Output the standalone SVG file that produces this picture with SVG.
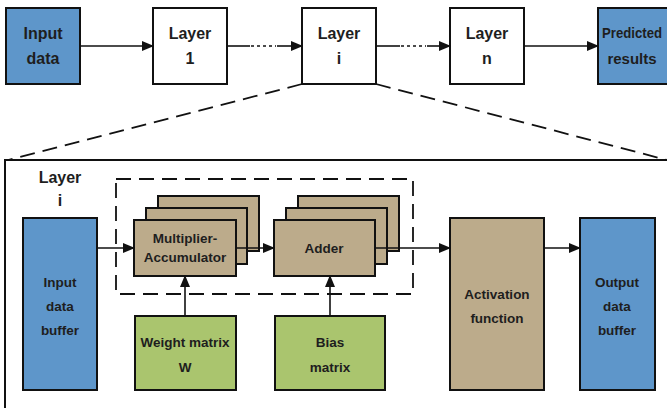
<svg xmlns="http://www.w3.org/2000/svg" width="667" height="408" viewBox="0 0 667 408">
<style>
.box{stroke:#111;stroke-width:2}
.blue{fill:#5E96CA}
.white{fill:#fff}
.tan{fill:#BCAB8B}
.green{fill:#AAC56E}
.t{font-family:"Liberation Sans",Arial,sans-serif;font-weight:bold;fill:#1e1e1e;text-anchor:middle;dominant-baseline:central}
.big{font-size:16px}
.sm{font-size:13.5px}
.ln{stroke:#111;stroke-width:1.6;fill:none}
.dash{stroke:#111;stroke-width:1.8;fill:none;stroke-dasharray:15 8}
.dot{stroke:#111;stroke-width:1.6;fill:none;stroke-dasharray:3 3}
</style>
<defs>
<marker id="ah" markerUnits="userSpaceOnUse" markerWidth="12" markerHeight="10" refX="11" refY="5" orient="auto">
<path d="M0,0 L12,5 L0,10 Z" fill="#111"/>
</marker>
</defs>
<rect x="0" y="0" width="667" height="408" fill="#fff"/>

<g id="top-nodes">
<g id="input-data"><rect class="box blue" x="6" y="8" width="74" height="76"/><text class="t big" x="43" y="33">Input</text><text class="t big" x="43" y="58">data</text></g>
<g id="layer-1"><rect class="box white" x="153" y="8" width="74" height="76"/><text class="t big" x="190" y="33">Layer</text><text class="t big" x="190" y="58">1</text></g>
<g id="layer-i"><rect class="box white" x="302" y="8" width="74" height="76"/><text class="t big" x="339" y="33">Layer</text><text class="t big" x="339" y="58">i</text></g>
<g id="layer-n"><rect class="box white" x="450" y="8" width="74" height="76"/><text class="t big" x="487" y="33">Layer</text><text class="t big" x="487" y="58">n</text></g>
<g id="predicted"><rect class="box blue" x="598" y="8" width="80" height="76"/><text class="t" style="font-size:14px;text-anchor:start" x="602" y="33" textLength="60" lengthAdjust="spacingAndGlyphs">Predicted</text><text class="t" style="font-size:15px" x="632" y="58">results</text></g>
</g>

<g id="detail-frame">
<rect x="5" y="160" width="680" height="260" fill="none" stroke="#111" stroke-width="2"/>
<text class="t big" x="60" y="177">Layer</text><text class="t big" x="60" y="200">i</text>
<rect x="116" y="179" width="297" height="115" class="dash"/>
</g>

<g id="connectors">
<line class="ln" x1="80" y1="46" x2="153" y2="46" marker-end="url(#ah)"/>
<line class="ln" x1="227" y1="46" x2="250" y2="46"/>
<line class="dot" x1="251" y1="46" x2="276" y2="46"/>
<line class="ln" x1="277" y1="46" x2="302" y2="46" marker-end="url(#ah)"/>
<line class="ln" x1="376" y1="46" x2="400" y2="46"/>
<line class="dot" x1="401" y1="46" x2="426" y2="46"/>
<line class="ln" x1="427" y1="46" x2="450" y2="46" marker-end="url(#ah)"/>
<line class="ln" x1="524" y1="46" x2="598" y2="46" marker-end="url(#ah)"/>
<line class="dash" x1="302" y1="84" x2="8" y2="160"/>
<line class="dash" x1="376" y1="84" x2="667" y2="160"/>
</g>

<g id="input-buffer"><rect class="box blue" x="23" y="218" width="74" height="172"/><text class="t sm" x="60" y="282">Input</text><text class="t sm" x="60" y="306">data</text><text class="t sm" x="60" y="330">buffer</text></g>

<g id="mac">
<rect class="box tan" x="158" y="196" width="101" height="55"/>
<rect class="box tan" x="146" y="208" width="101" height="56"/>
<rect class="box tan" x="134" y="220" width="102" height="56"/>
<text class="t sm" x="185" y="238">Multiplier-</text><text class="t sm" x="185" y="257">Accumulator</text>
</g>

<g id="adder">
<rect class="box tan" x="298" y="196" width="101" height="55"/>
<rect class="box tan" x="286" y="208" width="101" height="56"/>
<rect class="box tan" x="274" y="220" width="101" height="56"/>
<text class="t sm" x="324" y="248">Adder</text>
</g>

<g id="activation"><rect class="box tan" x="450" y="218" width="94" height="172"/><text class="t sm" x="497" y="294">Activation</text><text class="t sm" x="497" y="318">function</text></g>

<g id="output-buffer"><rect class="box blue" x="580" y="218" width="75" height="172"/><text class="t sm" x="617" y="282">Output</text><text class="t sm" x="617" y="306">data</text><text class="t sm" x="617" y="330">buffer</text></g>

<g id="weight"><rect class="box green" x="135" y="316" width="101" height="74"/><text class="t sm" x="185" y="342">Weight matrix</text><text class="t sm" x="185" y="367">W</text></g>

<g id="bias"><rect class="box green" x="275" y="316" width="110" height="74"/><text class="t sm" x="330" y="342">Bias</text><text class="t sm" x="330" y="367">matrix</text></g>

<g id="inner-connectors">
<line class="ln" x1="97" y1="248" x2="134" y2="248" marker-end="url(#ah)"/>
<line class="ln" x1="236" y1="248" x2="274" y2="248" marker-end="url(#ah)"/>
<line class="ln" x1="375" y1="248" x2="450" y2="248" marker-end="url(#ah)"/>
<line class="ln" x1="544" y1="248" x2="580" y2="248" marker-end="url(#ah)"/>
<line class="ln" x1="185" y1="316" x2="185" y2="276" marker-end="url(#ah)"/>
<line class="ln" x1="330" y1="316" x2="330" y2="276" marker-end="url(#ah)"/>
</g>
</svg>
